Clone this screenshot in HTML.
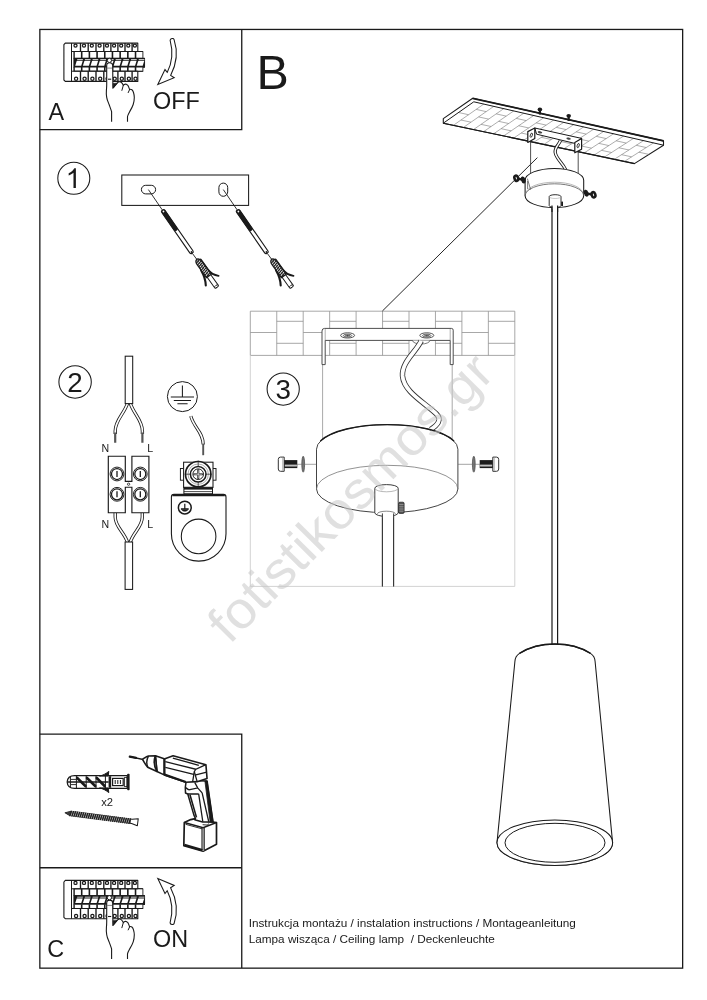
<!DOCTYPE html>
<html><head><meta charset="utf-8"><title>Instrukcja</title>
<style>
html,body{margin:0;padding:0;background:#fff;}
body{width:707px;height:1000px;overflow:hidden;font-family:"Liberation Sans",sans-serif;}
svg{display:block;will-change:transform;opacity:0.999;}
</style></head><body>
<svg width="707" height="1000" viewBox="0 0 707 1000">
<rect width="707" height="1000" fill="#fff"/>
<g fill="none" stroke="#1a1a1a" stroke-width="1.3">
<rect x="39.85" y="29.45" width="642.8" height="938.7"/>
<path d="M39.85 129.65H241.75V29.45"/>
<path d="M39.85 734.15H241.75V968.1"/>
<path d="M39.85 867.75H241.75"/>
</g>
<g fill="#1a1a1a" font-family="Liberation Sans, sans-serif">
<text x="48.6" y="119.7" font-size="23.4">A</text>
<text x="153.0" y="109.3" font-size="23.4">OFF</text>
<text x="256.6" y="88.9" font-size="48.4">B</text>
<text x="47.2" y="957.0" font-size="23.4">C</text>
<text x="153.0" y="946.6" font-size="23.4">ON</text>
<text x="248.7" y="927.0" font-size="11.76" xml:space="preserve">Instrukcja montażu / instalation instructions / Montageanleitung</text>
<text x="248.7" y="943.0" font-size="11.76" xml:space="preserve">Lampa wisząca / Ceiling lamp  / Deckenleuchte</text>
</g>
<defs><g id="brk">
<path d="M65.3 43.1H137.8V51.5H142.8V58.2H144.5V67.2H142.8V71.2H137.8V81.4H65.3L63.9 80.0V44.7Z" fill="#fff" stroke="#1a1a1a" stroke-width="1.1" stroke-linejoin="round"/>
<path d="M71.5 43.1V81.4" stroke="#1a1a1a" stroke-width="1" fill="none"/>
<rect x="73.4" y="51.0" width="69.4" height="7.6" fill="#1a1a1a"/>
<rect x="73.4" y="58.0" width="71.1" height="9.4" fill="#1a1a1a"/>
<rect x="73.4" y="67.0" width="69.4" height="4.6" fill="#1a1a1a"/>
<rect x="74.80" y="52.0" width="6.1" height="5.7" fill="#fff"/>
<path d="M77.30 59.35H83.00L82.75 60.2H77.05Z" fill="#fff"/>
<path d="M76.70 61.1H82.70L81.20 65.7H75.20Z" fill="#fff"/>
<rect x="74.80" y="67.5" width="6.1" height="3.2" fill="#fff"/>
<rect x="82.49" y="52.0" width="6.1" height="5.7" fill="#fff"/>
<path d="M84.99 59.35H90.69L90.44 60.2H84.74Z" fill="#fff"/>
<path d="M84.39 61.1H90.39L88.89 65.7H82.89Z" fill="#fff"/>
<rect x="82.49" y="67.5" width="6.1" height="3.2" fill="#fff"/>
<rect x="90.18" y="52.0" width="6.1" height="5.7" fill="#fff"/>
<path d="M92.68 59.35H98.38L98.13 60.2H92.43Z" fill="#fff"/>
<path d="M92.08 61.1H98.08L96.58 65.7H90.58Z" fill="#fff"/>
<rect x="90.18" y="67.5" width="6.1" height="3.2" fill="#fff"/>
<rect x="97.87" y="52.0" width="6.1" height="5.7" fill="#fff"/>
<path d="M100.37 59.35H106.07L105.82 60.2H100.12Z" fill="#fff"/>
<path d="M99.77 61.1H105.77L104.27 65.7H98.27Z" fill="#fff"/>
<rect x="97.87" y="67.5" width="6.1" height="3.2" fill="#fff"/>
<rect x="105.56" y="52.0" width="6.1" height="5.7" fill="#fff"/>
<path d="M108.06 59.35H113.76L113.51 60.2H107.81Z" fill="#fff"/>
<path d="M107.46 61.1H113.46L111.96 65.7H105.96Z" fill="#fff"/>
<rect x="105.56" y="67.5" width="6.1" height="3.2" fill="#fff"/>
<rect x="113.25" y="52.0" width="6.1" height="5.7" fill="#fff"/>
<path d="M115.75 59.35H121.45L121.20 60.2H115.50Z" fill="#fff"/>
<path d="M115.15 61.1H121.15L119.65 65.7H113.65Z" fill="#fff"/>
<rect x="113.25" y="67.5" width="6.1" height="3.2" fill="#fff"/>
<rect x="120.94" y="52.0" width="6.1" height="5.7" fill="#fff"/>
<path d="M123.44 59.35H129.14L128.89 60.2H123.19Z" fill="#fff"/>
<path d="M122.84 61.1H128.84L127.34 65.7H121.34Z" fill="#fff"/>
<rect x="120.94" y="67.5" width="6.1" height="3.2" fill="#fff"/>
<rect x="128.63" y="52.0" width="6.1" height="5.7" fill="#fff"/>
<path d="M131.13 59.35H136.83L136.58 60.2H130.88Z" fill="#fff"/>
<path d="M130.53 61.1H136.53L135.03 65.7H129.03Z" fill="#fff"/>
<rect x="128.63" y="67.5" width="6.1" height="3.2" fill="#fff"/>
<rect x="136.32" y="52.0" width="6.1" height="5.7" fill="#fff"/>
<path d="M138.82 59.35H144.52L144.27 60.2H138.57Z" fill="#fff"/>
<path d="M138.22 61.1H144.22L142.72 65.7H136.72Z" fill="#fff"/>
<rect x="136.32" y="67.5" width="6.1" height="3.2" fill="#fff"/>
<path d="M80.50 43.1V51.5M80.50 71.2V81.4" stroke="#1a1a1a" stroke-width="1.35"/>
<path d="M88.20 43.1V51.5M88.20 71.2V81.4" stroke="#1a1a1a" stroke-width="1.35"/>
<path d="M96.00 43.1V51.5M96.00 71.2V81.4" stroke="#1a1a1a" stroke-width="1.35"/>
<path d="M103.80 43.1V51.5M103.80 71.2V81.4" stroke="#1a1a1a" stroke-width="1.35"/>
<path d="M110.90 43.1V51.5M110.90 71.2V81.4" stroke="#1a1a1a" stroke-width="1.35"/>
<path d="M117.90 43.1V51.5M117.90 71.2V81.4" stroke="#1a1a1a" stroke-width="1.35"/>
<path d="M125.00 43.1V51.5M125.00 71.2V81.4" stroke="#1a1a1a" stroke-width="1.35"/>
<path d="M132.10 43.1V51.5M132.10 71.2V81.4" stroke="#1a1a1a" stroke-width="1.35"/>
<path d="M71.5 51.5H137.8M71.5 71.2H137.8" stroke="#1a1a1a" stroke-width="1"/>
<circle cx="75.50" cy="45.6" r="1.55" fill="#fff" stroke="#1a1a1a" stroke-width="1.25"/>
<circle cx="76.10" cy="78.7" r="1.6" fill="#fff" stroke="#1a1a1a" stroke-width="1.25"/>
<circle cx="84.00" cy="45.6" r="1.55" fill="#fff" stroke="#1a1a1a" stroke-width="1.25"/>
<circle cx="84.60" cy="78.7" r="1.6" fill="#fff" stroke="#1a1a1a" stroke-width="1.25"/>
<circle cx="91.80" cy="45.6" r="1.55" fill="#fff" stroke="#1a1a1a" stroke-width="1.25"/>
<circle cx="92.40" cy="78.7" r="1.6" fill="#fff" stroke="#1a1a1a" stroke-width="1.25"/>
<circle cx="99.60" cy="45.6" r="1.55" fill="#fff" stroke="#1a1a1a" stroke-width="1.25"/>
<circle cx="100.20" cy="78.7" r="1.6" fill="#fff" stroke="#1a1a1a" stroke-width="1.25"/>
<circle cx="107.00" cy="45.6" r="1.55" fill="#fff" stroke="#1a1a1a" stroke-width="1.25"/>
<circle cx="107.60" cy="78.7" r="1.6" fill="#fff" stroke="#1a1a1a" stroke-width="1.25"/>
<circle cx="114.10" cy="45.6" r="1.55" fill="#fff" stroke="#1a1a1a" stroke-width="1.25"/>
<circle cx="114.70" cy="78.7" r="1.6" fill="#fff" stroke="#1a1a1a" stroke-width="1.25"/>
<circle cx="121.20" cy="45.6" r="1.55" fill="#fff" stroke="#1a1a1a" stroke-width="1.25"/>
<circle cx="121.80" cy="78.7" r="1.6" fill="#fff" stroke="#1a1a1a" stroke-width="1.25"/>
<circle cx="128.30" cy="45.6" r="1.55" fill="#fff" stroke="#1a1a1a" stroke-width="1.25"/>
<circle cx="128.90" cy="78.7" r="1.6" fill="#fff" stroke="#1a1a1a" stroke-width="1.25"/>
<circle cx="134.90" cy="45.6" r="1.55" fill="#fff" stroke="#1a1a1a" stroke-width="1.25"/>
<circle cx="135.50" cy="78.7" r="1.6" fill="#fff" stroke="#1a1a1a" stroke-width="1.25"/>
<path d="M111.6 121.7L111.6 111.6C110.6 108.5 109.6 106 109.1 104.5C107.8 101.5 106.9 99.5 106.7 97.4C106.3 95 106.2 92.5 106.4 90.4C106.6 88 106.7 86 106.7 84.7L106.7 65.6C106.7 63.6 107.9 62.8 109.6 62.8C111.5 62.8 112.7 63.6 112.7 65.6L112.9 88.2L117.6 82.6C118.8 81.6 120.2 81.6 121.2 82.3C122.2 83 122.9 84.2 123.3 85.4C124.2 84.2 125.4 83.9 126.3 84.3C127.6 84.9 128.5 86.2 128.9 87.5L129.6 89.6C130.4 89.1 131.2 89.2 131.9 89.7C132.8 90.4 133.2 91.4 133.5 92.5C134 94.2 134.3 95.8 134.3 97.4C134.3 100 133.9 102.4 133.2 104.5C132.4 107 131 109.4 129.7 111.6C128.7 113.4 127.8 115 127.5 116.5L127.5 121.7" fill="#fff" stroke="#1a1a1a" stroke-width="1.1" stroke-linejoin="round"/>
<path d="M113.1 83.4L113.3 88.0L117.2 83.2Z" fill="#1a1a1a" stroke="#1a1a1a" stroke-width="0.7" stroke-linejoin="round"/>
<path d="M123.3 85.4L121.9 90.4M129.6 89.6L128.2 92.6" fill="none" stroke="#1a1a1a" stroke-width="1.0" stroke-linecap="round"/>
<path d="M107.2 68.1H112.2" fill="none" stroke="#555" stroke-width="0.7"/>
<path d="M108 79.2H111.2" stroke="#1a1a1a" stroke-width="1.1"/>
<circle cx="109.4" cy="60.4" r="2.1" fill="#fff" stroke="#1a1a1a" stroke-width="1"/>
</g>
<path id="arw" d="M170.1 40.2C170.3 38.4 173.6 37.9 174.1 39.6C177.2 49 177.6 62 170.6 75.4L174.2 77.7L157.8 84.6L165 69.6L167.2 72.4C173.4 60.5 172.6 49.5 170.1 40.2Z" fill="#fff" stroke="#1a1a1a" stroke-width="1.05" stroke-linejoin="miter"/>
</defs>
<use href="#brk"/>
<use href="#arw"/>
<use href="#brk" transform="translate(0 837.3)"/>
<use href="#arw" transform="translate(0 963.1) scale(1 -1)"/>
<circle cx="73.8" cy="178.3" r="16.0" fill="#fff" stroke="#1a1a1a" stroke-width="1.05"/>
<path transform="translate(65.68 188.00) scale(0.01338 -0.01338)" fill="#1a1a1a" d="M763 0H583V1147Q518 1085 412.5 1023Q307 961 223 930V1104Q374 1175 487 1276Q600 1377 647 1472H763Z"/>
<rect x="121.8" y="175.0" width="126.8" height="30.4" fill="#fff" stroke="#1a1a1a" stroke-width="1.05"/>
<rect x="141.4" y="185.3" width="14.2" height="8.6" rx="4.3" fill="#fff" stroke="#1a1a1a" stroke-width="1"/>
<rect x="218.9" y="183.1" width="8.8" height="13.2" rx="4.4" fill="#fff" stroke="#1a1a1a" stroke-width="1"/>
<g transform="translate(0 0)">
<path d="M148.4 189.6L162.2 209.8M192.4 253.4L196.8 259.4" stroke="#1a1a1a" stroke-width="0.9" fill="none"/>
<g transform="translate(162.4 210.0) rotate(55.31)">
<rect x="0" y="-1.9" width="52.54" height="3.8" rx="1.7" fill="#fff" stroke="#1a1a1a" stroke-width="1.15"/>
<rect x="0" y="-2.1" width="25.22" height="4.2" rx="1.9" fill="#1a1a1a"/>
<circle cx="1.9" cy="0" r="0.9" fill="#fff"/>
<circle cx="51.14" cy="0" r="0.9" fill="#1a1a1a"/>
</g>
<g transform="translate(196.8 259.2) rotate(54.19)">
<path d="M18.99 -2.2H33.53A1.1 2.2 0 0 1 33.53 2.2H18.99Z" fill="#fff" stroke="#1a1a1a" stroke-width="0.95"/>
<ellipse cx="33.53" cy="0" rx="1.1" ry="2.2" fill="#fff" stroke="#1a1a1a" stroke-width="0.9"/>
<path d="M2.5 -3.0L15 -2.9C19 -3 23 -4.6 26.2 -7.9" fill="none" stroke="#1a1a1a" stroke-width="1.9" stroke-linecap="round"/>
<path d="M11.5 3.0C16 3.5 22 5 26.6 8.1" fill="none" stroke="#1a1a1a" stroke-width="2.1" stroke-linecap="round"/>
<path d="M0 0C0.6 -2.6 3 -2.9 5 -2.9H20.6V2.9H5C3 2.9 0.6 2.6 0 0Z" fill="#fff" stroke="#1a1a1a" stroke-width="1.4" stroke-linejoin="round"/>
<path d="M1.80 -2.6L3.10 2.6" stroke="#1a1a1a" stroke-width="1.15"/>
<path d="M3.90 -2.6L5.20 2.6" stroke="#1a1a1a" stroke-width="1.15"/>
<path d="M6.00 -2.6L7.30 2.6" stroke="#1a1a1a" stroke-width="1.15"/>
<path d="M8.10 -2.6L9.40 2.6" stroke="#1a1a1a" stroke-width="1.15"/>
<path d="M10.20 -2.6L11.50 2.6" stroke="#1a1a1a" stroke-width="1.15"/>
<path d="M12.30 -2.6L13.60 2.6" stroke="#1a1a1a" stroke-width="1.15"/>
<path d="M14.40 -2.6L15.70 2.6" stroke="#1a1a1a" stroke-width="1.15"/>
<path d="M16.50 -2.6L17.80 2.6" stroke="#1a1a1a" stroke-width="1.15"/>
<path d="M18.60 -2.6L19.90 2.6" stroke="#1a1a1a" stroke-width="1.15"/>
<path d="M1.5 0H20.4" stroke="#1a1a1a" stroke-width="0.9" stroke-dasharray="1.4 1.1"/>
</g>
</g>
<g transform="translate(74.9 0)">
<path d="M148.4 189.6L162.2 209.8M192.4 253.4L196.8 259.4" stroke="#1a1a1a" stroke-width="0.9" fill="none"/>
<g transform="translate(162.4 210.0) rotate(55.31)">
<rect x="0" y="-1.9" width="52.54" height="3.8" rx="1.7" fill="#fff" stroke="#1a1a1a" stroke-width="1.15"/>
<rect x="0" y="-2.1" width="25.22" height="4.2" rx="1.9" fill="#1a1a1a"/>
<circle cx="1.9" cy="0" r="0.9" fill="#fff"/>
<circle cx="51.14" cy="0" r="0.9" fill="#1a1a1a"/>
</g>
<g transform="translate(196.8 259.2) rotate(54.19)">
<path d="M18.99 -2.2H33.53A1.1 2.2 0 0 1 33.53 2.2H18.99Z" fill="#fff" stroke="#1a1a1a" stroke-width="0.95"/>
<ellipse cx="33.53" cy="0" rx="1.1" ry="2.2" fill="#fff" stroke="#1a1a1a" stroke-width="0.9"/>
<path d="M2.5 -3.0L15 -2.9C19 -3 23 -4.6 26.2 -7.9" fill="none" stroke="#1a1a1a" stroke-width="1.9" stroke-linecap="round"/>
<path d="M11.5 3.0C16 3.5 22 5 26.6 8.1" fill="none" stroke="#1a1a1a" stroke-width="2.1" stroke-linecap="round"/>
<path d="M0 0C0.6 -2.6 3 -2.9 5 -2.9H20.6V2.9H5C3 2.9 0.6 2.6 0 0Z" fill="#fff" stroke="#1a1a1a" stroke-width="1.4" stroke-linejoin="round"/>
<path d="M1.80 -2.6L3.10 2.6" stroke="#1a1a1a" stroke-width="1.15"/>
<path d="M3.90 -2.6L5.20 2.6" stroke="#1a1a1a" stroke-width="1.15"/>
<path d="M6.00 -2.6L7.30 2.6" stroke="#1a1a1a" stroke-width="1.15"/>
<path d="M8.10 -2.6L9.40 2.6" stroke="#1a1a1a" stroke-width="1.15"/>
<path d="M10.20 -2.6L11.50 2.6" stroke="#1a1a1a" stroke-width="1.15"/>
<path d="M12.30 -2.6L13.60 2.6" stroke="#1a1a1a" stroke-width="1.15"/>
<path d="M14.40 -2.6L15.70 2.6" stroke="#1a1a1a" stroke-width="1.15"/>
<path d="M16.50 -2.6L17.80 2.6" stroke="#1a1a1a" stroke-width="1.15"/>
<path d="M18.60 -2.6L19.90 2.6" stroke="#1a1a1a" stroke-width="1.15"/>
<path d="M1.5 0H20.4" stroke="#1a1a1a" stroke-width="0.9" stroke-dasharray="1.4 1.1"/>
</g>
</g>
<circle cx="75.1" cy="382.0" r="16.2" fill="#fff" stroke="#1a1a1a" stroke-width="1.05"/>
<text x="75.1" y="391.9" font-size="27.8" text-anchor="middle" fill="#1a1a1a" font-family="Liberation Sans, sans-serif">2</text>
<path d="M127.6 403.0C124.2 414 115.2 420 115.2 431V434" fill="none" stroke="#1a1a1a" stroke-width="3.30" stroke-linecap="butt"/><path d="M127.6 403.0C124.2 414 115.2 420 115.2 431V434" fill="none" stroke="#fff" stroke-width="1.65" stroke-linecap="butt"/>
<path d="M130.2 403.0C133.6 414 142.4 420 142.4 431V434" fill="none" stroke="#1a1a1a" stroke-width="3.30" stroke-linecap="butt"/><path d="M130.2 403.0C133.6 414 142.4 420 142.4 431V434" fill="none" stroke="#fff" stroke-width="1.65" stroke-linecap="butt"/>
<path d="M115.2 432.4V442.8M142.4 432.4V442.8" stroke="#555" stroke-width="2.2"/>
<rect x="125.2" y="356.2" width="7.5" height="47.4" fill="#fff" stroke="#1a1a1a" stroke-width="1.05"/>
<path d="M115.2 512.7V517C115.2 527 124.4 532 127.6 542.6" fill="none" stroke="#1a1a1a" stroke-width="3.30" stroke-linecap="butt"/><path d="M115.2 512.7V517C115.2 527 124.4 532 127.6 542.6" fill="none" stroke="#fff" stroke-width="1.65" stroke-linecap="butt"/>
<path d="M142.3 512.7V517C142.3 527 133.2 532 130.1 542.6" fill="none" stroke="#1a1a1a" stroke-width="3.30" stroke-linecap="butt"/><path d="M142.3 512.7V517C142.3 527 133.2 532 130.1 542.6" fill="none" stroke="#fff" stroke-width="1.65" stroke-linecap="butt"/>
<rect x="125.1" y="542.0" width="7.5" height="47.4" fill="#fff" stroke="#1a1a1a" stroke-width="1.05"/>
<path d="M108.3 456.2H125.3V481.3H131.9V456.2H148.9V512.7H131.9V487.2H125.3V512.7H108.3Z" fill="#fff" stroke="#1a1a1a" stroke-width="1.15" stroke-linejoin="miter"/>
<circle cx="128.6" cy="484.2" r="1.15" fill="#fff" stroke="#1a1a1a" stroke-width="0.8"/>
<circle cx="117.0" cy="474.0" r="6.9" fill="#fff" stroke="#1a1a1a" stroke-width="0.95"/>
<circle cx="117.0" cy="474.0" r="5.5" fill="#fff" stroke="#1a1a1a" stroke-width="1.25"/>
<path d="M117.0 471.0V477.0" stroke="#1a1a1a" stroke-width="1.3"/>
<circle cx="117.0" cy="494.3" r="6.9" fill="#fff" stroke="#1a1a1a" stroke-width="0.95"/>
<circle cx="117.0" cy="494.3" r="5.5" fill="#fff" stroke="#1a1a1a" stroke-width="1.25"/>
<path d="M117.0 491.3V497.3" stroke="#1a1a1a" stroke-width="1.3"/>
<circle cx="140.3" cy="474.0" r="6.9" fill="#fff" stroke="#1a1a1a" stroke-width="0.95"/>
<circle cx="140.3" cy="474.0" r="5.5" fill="#fff" stroke="#1a1a1a" stroke-width="1.25"/>
<path d="M140.3 471.0V477.0" stroke="#1a1a1a" stroke-width="1.3"/>
<circle cx="140.3" cy="494.3" r="6.9" fill="#fff" stroke="#1a1a1a" stroke-width="0.95"/>
<circle cx="140.3" cy="494.3" r="5.5" fill="#fff" stroke="#1a1a1a" stroke-width="1.25"/>
<path d="M140.3 491.3V497.3" stroke="#1a1a1a" stroke-width="1.3"/>
<g fill="#1a1a1a" font-family="Liberation Sans, sans-serif" font-size="10.6"><text x="101.4" y="452.2">N</text><text x="147.2" y="452.2">L</text><text x="101.4" y="527.6">N</text><text x="147.2" y="527.6">L</text></g>
<circle cx="182.4" cy="396.6" r="15.0" fill="#fff" stroke="#1a1a1a" stroke-width="1.0"/>
<path d="M182.4 385.6V397M170.8 397H194M173.8 400.4H191M177.4 403.7H187.6" stroke="#1a1a1a" stroke-width="1.05" fill="none"/>
<path d="M190.8 416.2C194 428 203.2 432 203.2 444.6" fill="none" stroke="#1a1a1a" stroke-width="3.20" stroke-linecap="butt"/><path d="M190.8 416.2C194 428 203.2 432 203.2 444.6" fill="none" stroke="#fff" stroke-width="1.55" stroke-linecap="butt"/>
<path d="M203.2 443.6V455.2" stroke="#555" stroke-width="1.9"/>
<rect x="180.4" y="468.5" width="35.6" height="11.7" fill="#fff" stroke="#1a1a1a" stroke-width="0.95"/>
<rect x="183.6" y="462.2" width="29.4" height="25.2" fill="#fff" stroke="#1a1a1a" stroke-width="1.05"/>
<circle cx="198.2" cy="474.2" r="12.7" fill="#fff" stroke="#1a1a1a" stroke-width="1.7"/>
<circle cx="198.2" cy="474.2" r="10.2" fill="none" stroke="#777" stroke-width="0.6"/>
<circle cx="198.2" cy="474.2" r="7.8" fill="#fff" stroke="#1a1a1a" stroke-width="1.5"/>
<circle cx="198.2" cy="474.2" r="5.3" fill="#fff" stroke="#1a1a1a" stroke-width="1.0"/>
<path d="M194.4 474.2H202M198.2 470.4V478" stroke="#1a1a1a" stroke-width="2.1" stroke-linecap="round"/>
<path d="M194.6 474.2H201.8M198.2 470.6V477.8" stroke="#fff" stroke-width="0.7" stroke-linecap="round"/>
<path d="M184.8 474.2H191.2M205.2 474.2H211.6M198.2 460.6V466.6M198.2 482V487.6" stroke="#1a1a1a" stroke-width="0.7"/>
<rect x="183.9" y="487.4" width="28.6" height="6.4" fill="#fff" stroke="#1a1a1a" stroke-width="1.0"/>
<path d="M183.9 488.6H212.5" stroke="#1a1a1a" stroke-width="2.0"/>
<path d="M183.9 491.6H212.5" stroke="#1a1a1a" stroke-width="0.8"/>
<path d="M174.0 494.4H223.4Q226.0 494.4 226.0 497V533.8A27.3 27.3 0 0 1 171.4 533.8V497Q171.4 494.4 174.0 494.4Z" fill="#fff" stroke="#1a1a1a" stroke-width="1.1"/>
<path d="M172.6 495.2H224.8" stroke="#1a1a1a" stroke-width="2.2"/>
<circle cx="198.6" cy="536.4" r="17.3" fill="#fff" stroke="#1a1a1a" stroke-width="1.05"/>
<circle cx="184.8" cy="507.6" r="6.4" fill="#fff" stroke="#1a1a1a" stroke-width="1.5"/>
<path d="M184.8 503.8V508.8M180.9 508.8H188.7" stroke="#1a1a1a" stroke-width="1.2" fill="none"/>
<path d="M181.4 509.4C182.4 511.8 187.2 511.8 188.2 509.4Z" fill="#1a1a1a" stroke="#1a1a1a" stroke-width="0.6"/>
<g fill="none" stroke="#929292" stroke-width="0.8">
<path d="M250.30 311.2V355.4 M276.75 311.2V355.4 M303.20 311.2V355.4 M329.65 311.2V355.4 M356.10 311.2V355.4 M382.55 311.2V355.4 M409.00 311.2V355.4 M435.45 311.2V355.4 M461.90 311.2V355.4 M488.35 311.2V355.4 M514.80 311.2V355.4 M250.30 332.5H276.75 M276.75 321.3H303.20M276.75 343.3H303.20 M303.20 332.5H329.65 M329.65 321.3H356.10M329.65 343.3H356.10 M356.10 332.5H382.55 M382.55 321.3H409.00M382.55 343.3H409.00 M409.00 332.5H435.45 M435.45 321.3H461.90M435.45 343.3H461.90 M461.90 332.5H488.35 M488.35 321.3H514.80M488.35 343.3H514.80 M250.3 311.2H514.8M250.3 355.4H514.8"/>
</g>
<path d="M250.3 355.4V586.4H514.8V355.4" fill="none" stroke="#cdcdcd" stroke-width="0.9"/>
<path d="M322.6 364V440M452.2 364V440" stroke="#929292" stroke-width="0.8" fill="none"/>
<path d="M324.6 328.4H451.4Q453.2 328.4 453.2 330.2V364.6H450.2V340.4H325.2V364.6H322.0V331.0Q322.0 328.4 324.6 328.4Z" fill="#fff" stroke="#444" stroke-width="0.95" stroke-linejoin="round"/>
<path d="M325.2 329V340.4M450.2 329V340.4" stroke="#777" stroke-width="0.6"/>
<ellipse cx="347.6" cy="335.4" rx="7.0" ry="2.6" fill="#fff" stroke="#444" stroke-width="0.9"/>
<ellipse cx="347.6" cy="335.6" rx="4.2" ry="1.5" fill="#ddd" stroke="#444" stroke-width="0.8"/>
<path d="M345.20000000000005 335.6H350.0M347.6 334.5V336.7" stroke="#333" stroke-width="0.7"/>
<ellipse cx="426.8" cy="335.4" rx="7.0" ry="2.6" fill="#fff" stroke="#444" stroke-width="0.9"/>
<ellipse cx="426.8" cy="335.6" rx="4.2" ry="1.5" fill="#ddd" stroke="#444" stroke-width="0.8"/>
<path d="M424.40000000000003 335.6H429.2M426.8 334.5V336.7" stroke="#333" stroke-width="0.7"/>
<path d="M412.6 340.6A8.6 3.4 0 0 0 429.8 340.6" fill="#fff" stroke="#555" stroke-width="0.8"/>
<path d="M421.2 340.8C416 352 401.5 362 402.5 376C404 392 424 402 436.5 414C442 419.5 438 425 430.5 429.5" fill="none" stroke="#333" stroke-width="5.4"/>
<path d="M421.2 340.8C416 352 401.5 362 402.5 376C404 392 424 402 436.5 414C442 419.5 438 425 430.5 429.5" fill="none" stroke="#fff" stroke-width="3.7"/>
<path d="M316.5 449.2A70.7 24.6 0 0 1 457.9 449.2V489.0A70.7 23.7 0 0 1 316.5 489.0Z" fill="#fff" stroke="#3a3a3a" stroke-width="0.95"/>
<path d="M320.76 440.79A70.7 24.6 0 0 1 453.64 440.79" fill="none" stroke="#1a1a1a" stroke-width="1.45" stroke-linecap="round"/>
<path d="M316.5 489.0A70.7 23.7 0 0 1 457.9 489.0" fill="none" stroke="#777" stroke-width="0.8"/>
<g transform="translate(278.3 464.2)">
<path d="M2.2 -7.1H5.9V7.1H2.2Q0 7.1 0 4.8V-4.8Q0 -7.1 2.2 -7.1Z" fill="#fff" stroke="#333" stroke-width="1.0"/>
<path d="M4.4 -6.6V6.6" stroke="#999" stroke-width="0.7"/>
<rect x="5.9" y="-4.1" width="13.1" height="8.0" fill="#1c1c1c"/>
<rect x="6.6" y="0.3" width="12.0" height="2.2" fill="#9a9a9a"/>
<rect x="6.6" y="1.0" width="12.0" height="0.8" fill="#c8c8c8"/>
<ellipse cx="24.9" cy="0" rx="1.4" ry="8.0" fill="#777" stroke="#444" stroke-width="0.7"/>
</g>
<g transform="translate(498.7 464.2) scale(-1 1)">
<path d="M2.2 -7.1H5.9V7.1H2.2Q0 7.1 0 4.8V-4.8Q0 -7.1 2.2 -7.1Z" fill="#fff" stroke="#333" stroke-width="1.0"/>
<path d="M4.4 -6.6V6.6" stroke="#999" stroke-width="0.7"/>
<rect x="5.9" y="-4.1" width="13.1" height="8.0" fill="#1c1c1c"/>
<rect x="6.6" y="0.3" width="12.0" height="2.2" fill="#9a9a9a"/>
<rect x="6.6" y="1.0" width="12.0" height="0.8" fill="#c8c8c8"/>
<ellipse cx="24.9" cy="0" rx="1.4" ry="8.0" fill="#777" stroke="#444" stroke-width="0.7"/>
</g>
<path d="M297 464.3H316.4M458 464.3H480" stroke="#666" stroke-width="0.6"/>
<path d="M382.4 512V586.4M393.6 512V586.4" stroke="#333" stroke-width="0.95" fill="none"/>
<rect x="382.9" y="512" width="10.2" height="73.99999999999997" fill="#fff"/>
<path d="M374.8 488.2V512.8A11.7 3.6 0 0 0 398.2 512.8V488.2A11.7 3.6 0 0 0 374.8 488.2Z" fill="#fff" stroke="#333" stroke-width="0.95"/>
<path d="M374.8 488.2A11.7 3.6 0 0 0 398.2 488.2" fill="none" stroke="#999" stroke-width="0.7"/>
<path d="M377.4 513.8A9 2.6 0 0 1 395.4 513.8" fill="none" stroke="#555" stroke-width="0.7"/>
<rect x="382.4" y="513.2" width="11.2" height="5" fill="#fff"/>
<path d="M382.4 513.4V586.4M393.6 513.4V586.4" stroke="#333" stroke-width="0.95" fill="none"/>
<rect x="398.7" y="502.2" width="5.4" height="11.2" rx="1.2" fill="#555" stroke="#1a1a1a" stroke-width="0.7"/>
<path d="M399.2 504.6H403.6M399.2 506.8H403.6M399.2 509H403.6M399.2 511.2H403.6" stroke="#bbb" stroke-width="0.6"/>
<circle cx="283.2" cy="389.1" r="16.1" fill="#fff" stroke="#1a1a1a" stroke-width="1.05"/>
<text x="283.2" y="399.0" font-size="27.8" text-anchor="middle" fill="#1a1a1a" font-family="Liberation Sans, sans-serif">3</text>
<path d="M537.4 157.6L382.4 311.0" stroke="#1a1a1a" stroke-width="0.95" fill="none"/>
<path d="M472.7 98.3L663.5 140.9L663.5 145.2L634.4 163.6L443.3 123.2L443.3 118.6Z" fill="#fff" stroke="#1a1a1a" stroke-width="1.1" stroke-linejoin="round"/>
<path d="M483.78 104.08L453.36 125.33 M493.77 106.37L463.42 127.45 M503.75 108.65L473.47 129.58 M513.74 110.94L483.53 131.71 M523.72 113.22L493.59 133.83 M533.71 115.51L503.65 135.96 M543.69 117.79L513.71 138.08 M553.67 120.07L523.76 140.21 M563.66 122.36L533.82 142.34 M573.64 124.64L543.88 144.46 M583.63 126.93L553.94 146.59 M593.61 129.21L563.99 148.72 M603.59 131.49L574.05 150.84 M613.58 133.78L584.11 152.97 M623.56 136.06L594.17 155.09 M633.55 138.35L604.23 157.22 M643.53 140.63L614.28 159.35 M653.52 142.92L624.34 161.47 M458.55 112.50L468.57 114.71 M476.18 109.39L486.18 111.64 M460.96 120.02L471.00 122.18 M478.59 116.91L488.61 119.12 M496.18 113.88L506.19 116.13 M481.04 124.35L491.08 126.51 M498.63 121.32L508.66 123.53 M516.19 118.37L526.19 120.62 M501.12 128.68L511.16 130.84 M518.68 125.73L528.70 127.94 M536.19 122.86L546.20 125.11 M521.20 133.01L531.24 135.18 M538.72 130.14L548.74 132.35 M556.20 127.35L566.20 129.60 M541.28 137.34L551.32 139.51 M558.76 134.55L568.78 136.76 M576.20 131.84L586.21 134.09 M561.36 141.67L571.40 143.84 M578.80 138.96L588.82 141.17 M596.21 136.33L606.21 138.58 M581.44 146.01L591.48 148.17 M598.84 143.37L608.87 145.58 M616.21 140.82L626.22 143.07 M601.52 150.34L611.56 152.50 M618.89 147.78L628.91 149.99 M636.22 145.31L646.22 147.56 M621.60 154.67L631.64 156.83 M638.93 152.19L648.95 154.40" fill="none" stroke="#777" stroke-width="0.6"/>
<path d="M443.3 123.2L473.8 101.8L663.5 145.2" fill="none" stroke="#1a1a1a" stroke-width="1.0" stroke-linejoin="round"/>
<path d="M472.7 98.3L663.5 140.9" fill="none" stroke="#1a1a1a" stroke-width="1.7"/>
<path d="M443.3 123.2L634.4 163.6" fill="none" stroke="#1a1a1a" stroke-width="1.05"/>
<path d="M539.9 109.5V114.6" stroke="#1a1a1a" stroke-width="2.2"/>
<ellipse cx="539.9" cy="109.4" rx="2.3" ry="1.9" fill="#1a1a1a"/>
<path d="M568.7 115.9V121.0" stroke="#1a1a1a" stroke-width="2.2"/>
<ellipse cx="568.7" cy="115.80000000000001" rx="2.3" ry="1.9" fill="#1a1a1a"/>
<path d="M530.6 141.5V176.5M578.2 151.5V173" stroke="#333" stroke-width="0.85" fill="none"/>
<path d="M560.4 140.6C558.6 145 554.6 147.6 555.2 152.4C556 158.6 562.6 163 565.6 169.6" fill="none" stroke="#1a1a1a" stroke-width="3.3"/>
<path d="M560.4 140.6C558.6 145 554.6 147.6 555.2 152.4C556 158.6 562.6 163 565.6 169.6" fill="none" stroke="#fff" stroke-width="1.5"/>
<path d="M534.8 128.0L581.6 138.4L574.8 143.4L536.6 134.2Z" fill="#fff" stroke="#1a1a1a" stroke-width="1.0" stroke-linejoin="round"/>
<path d="M527.8 131.6L534.8 128.0V138.4L527.8 142.4Z" fill="#fff" stroke="#1a1a1a" stroke-width="1.2" stroke-linejoin="round"/>
<path d="M574.8 142.6L581.6 138.4V149.2L574.8 152.8Z" fill="#fff" stroke="#1a1a1a" stroke-width="1.2" stroke-linejoin="round"/>
<ellipse cx="531.3" cy="135.2" rx="1.0" ry="2.2" fill="#fff" stroke="#1a1a1a" stroke-width="0.8" transform="rotate(18 531.3 135.2)"/>
<ellipse cx="578.2" cy="145.6" rx="1.0" ry="2.2" fill="#fff" stroke="#1a1a1a" stroke-width="0.8" transform="rotate(18 578.2 145.6)"/>
<ellipse cx="540.0" cy="132.3" rx="2.3" ry="1.1" fill="#444" transform="rotate(12 540 132.3)"/>
<ellipse cx="568.6" cy="138.6" rx="2.3" ry="1.1" fill="#444" transform="rotate(12 568.6 138.6)"/>
<path d="M525.1 180.3A29.3 11.9 0 0 1 583.6999999999999 180.3V195.7A29.3 11.9 0 0 1 525.1 195.7Z" fill="#fff" stroke="#1a1a1a" stroke-width="1.05"/>
<path d="M525.1 195.7A29.3 11.9 0 0 1 583.6999999999999 195.7" fill="none" stroke="#555" stroke-width="0.8"/>
<path d="M525.7 194.1A28.7 11.9 0 0 1 583.0999999999999 194.1" fill="none" stroke="#888" stroke-width="0.6"/>
<path d="M517.5 178.4L525.4 180.6" stroke="#1a1a1a" stroke-width="2.2"/>
<ellipse cx="523.3" cy="180.0" rx="2.2" ry="3.6" fill="#1a1a1a" transform="rotate(-18 523.3 180)"/>
<ellipse cx="516.3" cy="178.2" rx="1.8" ry="2.7" fill="#fff" stroke="#1a1a1a" stroke-width="2.6" transform="rotate(-18 516.3 178.2)"/>
<path d="M527.4 178.6L530.6 189.6M527.6 181V189" stroke="#444" stroke-width="0.7" fill="none"/>
<path d="M584.0 192.6L592 194.6" stroke="#1a1a1a" stroke-width="2.2"/>
<ellipse cx="586.3" cy="193.2" rx="2.2" ry="3.6" fill="#1a1a1a" transform="rotate(-18 586.3 193.2)"/>
<ellipse cx="593.5" cy="194.8" rx="1.8" ry="2.7" fill="#fff" stroke="#1a1a1a" stroke-width="2.6" transform="rotate(-18 593.5 194.8)"/>
<rect x="552.0" y="204" width="5.6" height="441" fill="#fff" stroke="#1a1a1a" stroke-width="1.2"/>
<path d="M549.2 196.6V205.6A5.9 1.9 0 0 0 561.0 205.6V196.6A5.9 1.9 0 0 0 549.2 196.6Z" fill="#fff" stroke="#1a1a1a" stroke-width="0.9"/>
<path d="M549.2 196.6A5.9 1.9 0 0 0 561.0 196.6" fill="none" stroke="#aaa" stroke-width="0.6"/>
<rect x="552.5" y="205.2" width="4.6" height="4" fill="#fff"/>
<path d="M552.0 205.4V212M557.6 205.4V212" stroke="#1a1a1a" stroke-width="1.2"/>
<rect x="561.2" y="201.6" width="1.8" height="4.4" fill="#1a1a1a"/>
<path d="M514.9 661.5C515.1 657.5 516.4 655.4 519.5 653.4C529 647.4 542 644.1 554.9 644.1C568 644.1 581 647.4 590.5 653.4C593.6 655.4 594.9 657.5 595.1 661.5L612.6 842.6A57.8 22.8 0 0 1 497.0 842.6Z" fill="#fff" stroke="#1a1a1a" stroke-width="1.05" stroke-linejoin="round"/>
<path d="M519.5 653.4C529 647.4 542 644.1 554.9 644.1C568 644.1 581 647.4 590.5 653.4" fill="none" stroke="#1a1a1a" stroke-width="1.5"/>
<ellipse cx="554.8" cy="842.7" rx="57.8" ry="22.8" fill="#fff" stroke="#1a1a1a" stroke-width="1.05"/>
<ellipse cx="555.0" cy="842.8" rx="50.0" ry="19.5" fill="#fff" stroke="#1a1a1a" stroke-width="1.0"/>
<path d="M129.81 756.63L143.10 759.46" stroke="#1a1a1a" stroke-width="1.5" stroke-linecap="round" fill="none"/>
<path d="M129.81 756.63L136.03 757.90" stroke="#1a1a1a" stroke-width="2.3" stroke-linecap="round" fill="none"/>
<path d="M184.31 822.52L190.74 819.55L195.20 818.56L207.57 821.34L216.49 822.52L216.49 844.31L203.12 851.24L183.81 845.79Z" fill="#fff" stroke="#1a1a1a" stroke-linejoin="round" stroke-width="1.7"/>
<path d="M203.12 827.67L203.12 851.04" fill="none" stroke="#9a9a9a" stroke-width="2.4"/>
<path d="M201.83 827.48L201.83 850.45M204.41 827.48L204.41 850.64" fill="none" stroke="#1a1a1a" stroke-width="0.8"/>
<path d="M184.31 822.52L203.12 827.67L216.49 822.52" fill="none" stroke="#1a1a1a" stroke-width="1.5"/>
<path d="M185.59 824.31L202.23 828.86M202.62 824.70L207.77 825.10L208.56 823.51" fill="none" stroke="#1a1a1a" stroke-width="0.9"/>
<path d="M184.41 844.90L202.43 850.05" fill="none" stroke="#1a1a1a" stroke-width="2.4"/>
<path d="M186.29 780.45L185.30 787.38L185.50 793.02L187.77 794.01L193.91 815.10L195.50 818.56L194.70 819.75L202.62 821.93L213.02 821.93L207.08 780.94Z" fill="#fff" stroke="#1a1a1a" stroke-linejoin="round" stroke-width="1.5"/>
<path d="M204.90 780.94L207.08 780.94L213.12 821.93L210.15 821.93Z" fill="#1a1a1a" stroke="#1a1a1a" stroke-width="0.8" stroke-linejoin="round"/>
<path d="M198.66 793.81L202.82 821.73M202.13 792.82L208.76 821.73M187.77 794.01L198.66 793.81M188.76 789.85L197.67 787.87L202.13 792.82M197.67 787.87L194.70 782.43M185.30 787.38L188.76 789.85" fill="none" stroke="#1a1a1a" stroke-width="1.3"/>
<path d="M189.95 794.80L196.49 817.38" fill="none" stroke="#1a1a1a" stroke-width="1.6"/>
<path d="M164.32 759.03L173.09 755.78L205.91 764.69L207.04 778.41L197.14 781.66L185.82 782.23L164.32 774.87Z" fill="#fff" stroke="#1a1a1a" stroke-linejoin="round" stroke-width="1.6"/>
<path d="M165.31 761.72L195.72 769.22L205.91 764.69M172.81 758.18L198.83 765.26M165.31 767.38L193.74 774.45M195.72 769.22L194.31 771.62L192.61 781.95" fill="none" stroke="#1a1a1a" stroke-width="1.3"/>
<path d="M194.87 775.16L206.75 772.05M194.31 771.62L197.14 781.66" fill="none" stroke="#1a1a1a" stroke-width="1.3"/>
<path d="M164.60 774.59L185.82 781.95" fill="none" stroke="#1a1a1a" stroke-width="2.2"/>
<path d="M155.41 755.78L164.18 758.75L164.18 774.87L156.97 771.48Z" fill="#fff" stroke="#1a1a1a" stroke-linejoin="round" stroke-width="1.5"/>
<path d="M164.46 759.03L164.46 774.73" fill="none" stroke="#1a1a1a" stroke-width="2.0"/>
<path d="M142.82 759.17C144.80 757.90 146.22 756.49 148.48 756.06L155.41 755.78L156.97 771.48L147.63 767.24C146.22 765.68 144.09 762.14 142.82 759.88Z" fill="#fff" stroke="#1a1a1a" stroke-linejoin="round" stroke-width="1.6"/>
<path d="M148.48 756.06C146.22 760.02 146.22 763.56 147.91 767.24" fill="none" stroke="#1a1a1a" stroke-width="1.4"/>
<path d="M155.41 755.78C153.71 760.73 154.42 767.09 156.97 771.48" fill="none" stroke="#1a1a1a" stroke-width="1.8"/>
<path d="M67.2 782.0C67.4 777.6 70.8 775.6 74.6 775.6H127.2V788.4H74.6C70.8 788.4 67.4 786.4 67.2 782.0Z" fill="#fff" stroke="#1a1a1a" stroke-width="1.3"/>
<path d="M70.4 776.2V787.8M76.4 775.6V788.4M86.2 775.6V788.4M96.0 775.6V788.4M105.4 775.6V788.4" stroke="#1a1a1a" stroke-width="1.0"/>
<path d="M68 782H108.6" stroke="#1a1a1a" stroke-width="1.7"/>
<path d="M77.2 778.0L85.4 786.0M87.0 778.0L95.2 786.0M96.8 778.0L104.6 786.0" stroke="#1a1a1a" stroke-width="2.6" stroke-linecap="round"/>
<path d="M71 779.4H76M71 784.6H76" stroke="#1a1a1a" stroke-width="0.9"/>
<path d="M99.5 776C103 775.4 106 773.6 108.8 771.4L108.2 776Z" fill="#1a1a1a" stroke="#1a1a1a" stroke-width="1.0" stroke-linejoin="round"/>
<path d="M99.5 788C103 788.6 106 790.4 108.8 792.6L108.2 788Z" fill="#1a1a1a" stroke="#1a1a1a" stroke-width="1.0" stroke-linejoin="round"/>
<rect x="108.6" y="776.2" width="2.6" height="11.6" fill="#1a1a1a"/>
<rect x="112.6" y="778.4" width="10.6" height="7.2" fill="#fff" stroke="#1a1a1a" stroke-width="1.2"/>
<path d="M115.2 780V784M117.8 780V784M120.4 780V784" stroke="#1a1a1a" stroke-width="1.0"/>
<rect x="124.6" y="777.4" width="2.2" height="9.2" fill="#fff" stroke="#1a1a1a" stroke-width="0.8"/>
<rect x="127.2" y="773.8" width="2.4" height="16.4" rx="0.8" fill="#1a1a1a"/>
<text x="101.2" y="806.0" font-size="11.2" fill="#1a1a1a" font-family="Liberation Sans, sans-serif">x2</text>
<g transform="translate(65.2 812.8) rotate(7.38)">
<path d="M0 0L5 -2.1H67.21L73.21 -3.6V3.6L67.21 2.1H5Z" fill="#fff" stroke="#1a1a1a" stroke-width="1.0" stroke-linejoin="round"/>
<path d="M0 0L5.5 -2.2H66.21V2.2H5.5Z" fill="#3a3a3a"/>
<path d="M6.00 2.6L7.10 -2.6M8.05 2.6L9.15 -2.6M10.10 2.6L11.20 -2.6M12.15 2.6L13.25 -2.6M14.20 2.6L15.30 -2.6M16.25 2.6L17.35 -2.6M18.30 2.6L19.40 -2.6M20.35 2.6L21.45 -2.6M22.40 2.6L23.50 -2.6M24.45 2.6L25.55 -2.6M26.50 2.6L27.60 -2.6M28.55 2.6L29.65 -2.6M30.60 2.6L31.70 -2.6M32.65 2.6L33.75 -2.6M34.70 2.6L35.80 -2.6M36.75 2.6L37.85 -2.6M38.80 2.6L39.90 -2.6M40.85 2.6L41.95 -2.6M42.90 2.6L44.00 -2.6M44.95 2.6L46.05 -2.6M47.00 2.6L48.10 -2.6M49.05 2.6L50.15 -2.6M51.10 2.6L52.20 -2.6M53.15 2.6L54.25 -2.6M55.20 2.6L56.30 -2.6M57.25 2.6L58.35 -2.6M59.30 2.6L60.40 -2.6M61.35 2.6L62.45 -2.6M63.40 2.6L64.50 -2.6" stroke="#ddd" stroke-width="0.6" fill="none"/>
<path d="M5.00 2.9L6.10 -2.9M7.05 2.9L8.15 -2.9M9.10 2.9L10.20 -2.9M11.15 2.9L12.25 -2.9M13.20 2.9L14.30 -2.9M15.25 2.9L16.35 -2.9M17.30 2.9L18.40 -2.9M19.35 2.9L20.45 -2.9M21.40 2.9L22.50 -2.9M23.45 2.9L24.55 -2.9M25.50 2.9L26.60 -2.9M27.55 2.9L28.65 -2.9M29.60 2.9L30.70 -2.9M31.65 2.9L32.75 -2.9M33.70 2.9L34.80 -2.9M35.75 2.9L36.85 -2.9M37.80 2.9L38.90 -2.9M39.85 2.9L40.95 -2.9M41.90 2.9L43.00 -2.9M43.95 2.9L45.05 -2.9M46.00 2.9L47.10 -2.9M48.05 2.9L49.15 -2.9M50.10 2.9L51.20 -2.9M52.15 2.9L53.25 -2.9M54.20 2.9L55.30 -2.9M56.25 2.9L57.35 -2.9M58.30 2.9L59.40 -2.9M60.35 2.9L61.45 -2.9M62.40 2.9L63.50 -2.9M64.45 2.9L65.55 -2.9" stroke="#1a1a1a" stroke-width="0.9" fill="none"/>
</g>
<text transform="translate(229.6 645.3) rotate(-45.4) scale(1.052 1)" font-size="52" fill="#c8c8c8" fill-opacity="0.56" font-family="Liberation Sans, sans-serif">fotistikosmos.gr</text>
</svg>
</body></html>
